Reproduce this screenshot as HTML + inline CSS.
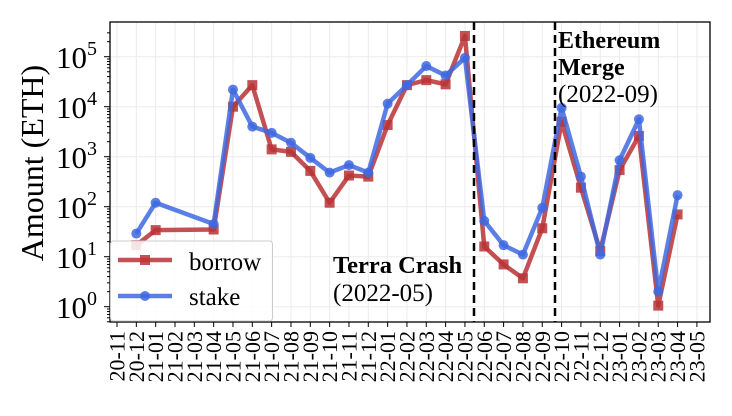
<!DOCTYPE html>
<html><head><meta charset="utf-8"><style>
html,body{margin:0;padding:0;background:#fff;}
svg{display:block;font-family:"Liberation Serif",serif;}
</style></head><body>
<svg id="s" width="732" height="416" viewBox="0 0 732 416" xmlns="http://www.w3.org/2000/svg">
<g id="grid" stroke="#ebebeb" stroke-width="1"></g>
<g id="series"></g>
<line x1="474" y1="22" x2="474" y2="322" stroke="#000" stroke-width="2.5" stroke-dasharray="8,5"/>
<line x1="555" y1="22" x2="555" y2="322" stroke="#000" stroke-width="2.5" stroke-dasharray="8,5"/>
<rect x="110" y="22" width="600" height="300" fill="none" stroke="#000" stroke-width="1.3"/>
<g id="ticks" stroke="#000" stroke-width="1"></g>
<g font-size="31" text-anchor="end" fill="#000">
<text x="97" y="68">10<tspan font-size="20" dy="-13">5</tspan></text>
<text x="97" y="118">10<tspan font-size="20" dy="-13">4</tspan></text>
<text x="97" y="168">10<tspan font-size="20" dy="-13">3</tspan></text>
<text x="97" y="218">10<tspan font-size="20" dy="-13">2</tspan></text>
<text x="97" y="268">10<tspan font-size="20" dy="-13">1</tspan></text>
<text x="97" y="318">10<tspan font-size="20" dy="-13">0</tspan></text>
</g>
<text transform="translate(43,163) rotate(-90)" font-size="32" text-anchor="middle">Amount (ETH)</text>
<g id="xl" font-size="22" fill="#000" text-anchor="end"></g>
<text x="333" y="273" font-size="24.5" font-weight="bold">Terra Crash</text>
<text x="333" y="301" font-size="25">(2022-05)</text>
<text x="558" y="48" font-size="24" font-weight="bold">Ethereum</text>
<text x="558" y="75" font-size="24" font-weight="bold">Merge</text>
<text x="558" y="102" font-size="25">(2022-09)</text>
<rect x="110.5" y="241" width="162" height="80" rx="3" fill="#fff" fill-opacity="0.85" stroke="#ccc" stroke-width="1"/>
<line x1="118" y1="260" x2="172" y2="260" stroke="#b83236" stroke-opacity="0.85" stroke-width="4.5"/>
<rect x="140" y="255" width="10" height="10" fill="#b83236" fill-opacity="0.85"/>
<text x="189" y="270" font-size="25">borrow</text>
<line x1="118" y1="296" x2="172" y2="296" stroke="#3f68e0" stroke-opacity="0.85" stroke-width="4.5"/>
<circle cx="145" cy="296" r="5" fill="#3f68e0" fill-opacity="0.85"/>
<text x="189" y="305" font-size="25">stake</text>
</svg>
<script>
const NS="http://www.w3.org/2000/svg";
const X=i=>117+19.33*i, Y=v=>306.7-50*Math.log10(v);
const grid=document.getElementById('grid'),ticks=document.getElementById('ticks'),xl=document.getElementById('xl'),ser=document.getElementById('series');
function el(p,t,a){const e=document.createElementNS(NS,t);for(const k in a)e.setAttribute(k,a[k]);p.appendChild(e);return e;}
const labels=[];let y=20,m=11;for(let i=0;i<31;i++){labels.push(y+'-'+String(m).padStart(2,'0'));m++;if(m>12){m=1;y++;}}
labels.forEach((l,i)=>{const x=X(i);el(grid,'line',{x1:x,y1:22,x2:x,y2:322});el(ticks,'line',{x1:x,y1:322,x2:x,y2:327});
const t=el(xl,'text',{transform:`translate(${x+7.5},${331}) rotate(-90)`});t.textContent=l;});
for(let d=0;d<=5;d++){const yy=Y(10**d);el(grid,'line',{x1:110,y1:yy,x2:710,y2:yy});el(ticks,'line',{x1:104,y1:yy,x2:110,y2:yy});
 if(d<5)for(let k=2;k<10;k++){const y2=Y(k*10**d);el(ticks,'line',{x1:107,y1:y2,x2:110,y2:y2});}}
for(let k=2;k<4;k++){const y2=Y(k*1e5);el(ticks,'line',{x1:107,y1:y2,x2:110,y2:y2});}
for(let k=5;k<10;k++){const y2=Y(k*0.1);if(y2<322)el(ticks,'line',{x1:107,y1:y2,x2:110,y2:y2});}
const idx=[1,2,5,6,7,8,9,10,11,12,13,14,15,16,17,18,19,20,21,22,23,24,25,26,27,28,29];
const borrow=[17,34,35,10000,27000,1400,1250,520,120,420,400,4300,27000,34000,28000,260000,16,7,3.7,37,5000,240,13,540,2600,1.05,70];
const stake=[29,120,45,22000,4000,3000,1900,950,480,680,480,11500,27000,65000,42000,95000,52,17,11,95,9500,400,11,850,5600,2,170];
function draw(d,c,sq){const pts=d.map((v,j)=>[X(idx[j]),Y(v)]);
 el(ser,'polyline',{points:pts.map(p=>p.join(',')).join(' '),fill:'none',stroke:c,'stroke-opacity':0.85,'stroke-width':4.5,'stroke-linejoin':'round'});
 pts.forEach(p=>{if(sq)el(ser,'rect',{x:p[0]-5,y:p[1]-5,width:10,height:10,fill:c,'fill-opacity':0.85});else el(ser,'circle',{cx:p[0],cy:p[1],r:5,fill:c,'fill-opacity':0.85});});}
draw(borrow,'#b83236',true);draw(stake,'#3f68e0',false);
</script>
</body></html>
